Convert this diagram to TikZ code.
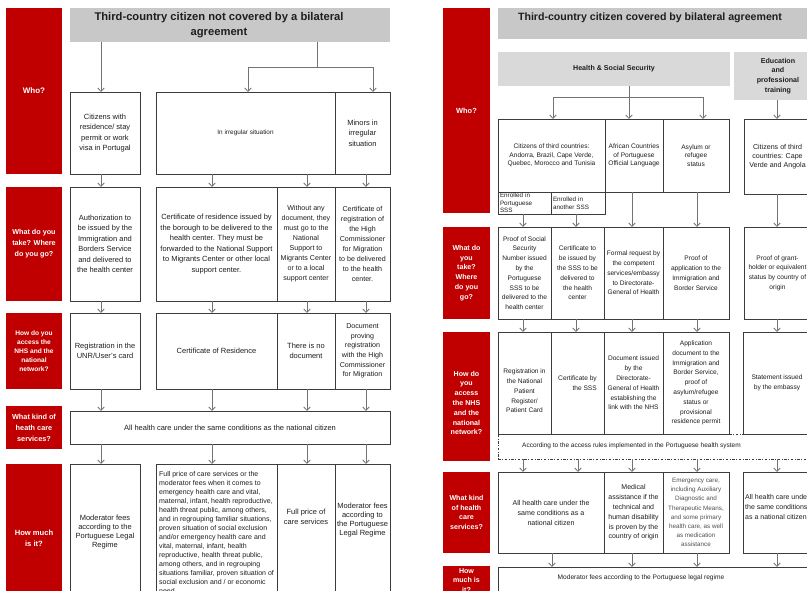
\documentclass[tikz,border=0pt]{standalone}
\usepackage{fontspec}
\setmainfont{Liberation Sans}
\usetikzlibrary{arrows.meta}
\definecolor{redlab}{RGB}{192,0,0}
\definecolor{titlegray}{RGB}{200,200,200}
\definecolor{subgray}{RGB}{217,217,217}
\definecolor{linegray}{RGB}{60,60,60}
\definecolor{arrgray}{RGB}{115,115,115}
\definecolor{txtcol}{RGB}{30,30,30}
\definecolor{softtxt}{RGB}{80,80,80}
\newcommand\bx[7][]{\pgfmathsetmacro\bxw{#5-#3}\pgfmathsetmacro\bxh{#6-#4}%
\node[cellst,minimum width=\bxw pt,minimum height=\bxh pt,#1] (#2) at (#3,#4) {#7};}
\tikzset{
 cellst/.style={draw=linegray,line width=0.7pt,anchor=north west,inner sep=1pt,outer sep=0pt,align=center,text=txtcol,font=\fontsize{7.5}{10.5}\selectfont},
 redst/.style={fill=redlab,draw=none,text=white},
 grayst/.style={fill=titlegray,draw=none},
 subst/.style={fill=subgray,draw=none},
 rf/.style={font=\fontsize{6.6}{9.8}\selectfont},
 txtst/.style={align=center,inner sep=0pt,text=txtcol},
 ln/.style={draw=arrgray,line width=0.8pt},
 arr/.style={ln,-{Straight Barb[length=3.5pt,width=6.5pt]}},
}
\begin{document}
\begin{tikzpicture}[x=1pt,y=-1pt]
\useasboundingbox (0,0) rectangle (807,590);
\clip (0,0) rectangle (807,590);
\fill[white] (0,0) rectangle (807,590);

% ================= LEFT PANEL =================
\bx[redst,font=\bfseries\fontsize{8}{10}\selectfont]{LR1}{6}{8}{62}{174}{Who?}
\bx[redst,font=\bfseries\fontsize{7.2}{11}\selectfont]{LR2}{6}{187}{62}{301}{What do you\\take? Where\\do you go?}
\bx[redst,font=\bfseries\fontsize{6.6}{9}\selectfont]{LR3}{6}{313}{62}{389}{How do you\\access the\\NHS and the\\national\\network?}
\bx[redst,font=\bfseries\fontsize{7.3}{11}\selectfont]{LR4}{6}{406}{62}{449}{What kind of\\heath care\\services?}
\bx[redst,font=\bfseries\fontsize{7.6}{11}\selectfont]{LR5}{6}{464}{62}{612}{How much\\is it?}

\bx[grayst]{TL}{70}{8}{390}{42}{}
\node[txtst,font=\bfseries\fontsize{11.2}{15}\selectfont] (TLt) at (219,25) {Third-country citizen not covered by a bilateral\\agreement};

\bx{A1}{70}{92}{140}{174}{Citizens with\\residence/ stay\\permit or work\\visa in Portugal}
\bx[font=\fontsize{6.4}{9}\selectfont]{B1}{156}{92}{335}{174}{In irregular situation}
\bx{C1}{335}{92}{390}{174}{Minors in\\irregular\\situation}

\bx{A2}{70}{187}{140}{301}{Authorization to\\be issued by the\\Immigration and\\Borders Service\\and delivered to\\the health center}
\bx{B2}{156}{187}{277}{301}{Certificate of residence issued by\\the borough to be delivered to the\\health center. They must be\\forwarded to the National Support\\to Migrants Center or other local\\support center.}
\bx[font=\fontsize{7.1}{10}\selectfont]{C2}{277}{187}{335}{301}{Without any\\document, they\\must go to the\\National\\Support to\\Migrants Center\\or to a local\\support center}
\bx[font=\fontsize{7.1}{10}\selectfont]{D2}{335}{187}{390}{301}{Certificate of\\registration of\\the High\\Commissioner\\for Migration\\to be delivered\\to the health\\center.}

\bx{A3}{70}{313}{140}{389}{Registration in the\\UNR/User's card}
\bx{B3}{156}{313}{277}{389}{Certificate of Residence}
\bx{C3}{277}{313}{335}{389}{There is no\\document}
\bx[font=\fontsize{7.1}{9.6}\selectfont]{D3}{335}{313}{390}{389}{Document\\proving\\registration\\with the High\\Commissioner\\for Migration}

\bx{R4L}{70}{411}{390}{444}{All health care under the same conditions as the national citizen}

\bx[font=\fontsize{7.5}{9}\selectfont]{A5}{70}{464}{140}{600}{Moderator fees\\according to the\\Portuguese Legal\\Regime}
\bx[font=\fontsize{7}{9}\selectfont,align=left]{B5}{156}{464}{277}{600}{Full price of care services or the\\moderator fees when it comes to\\emergency health care and vital,\\maternal, infant, health reproductive,\\health threat public, among others,\\and in regrouping familiar situations,\\proven situation of social exclusion\\and/or emergency health care and\\vital, maternal, infant, health\\reproductive, health threat public,\\among others, and in regrouping\\situations familiar, proven situation of\\social exclusion and / or economic\\need.}
\bx{C5}{277}{464}{335}{600}{}
\node[txtst,font=\fontsize{7.5}{10.5}\selectfont] (C5t) at (306,517) {Full price of\\care services};
\bx{D5}{335}{464}{390}{600}{}
\node[txtst,font=\fontsize{7.5}{8.8}\selectfont] (D5t) at (362.5,520) {Moderator fees\\according to\\the Portuguese\\Legal Regime};

% left connectors
\coordinate (cxA) at (101,0);
\coordinate (cxB) at (212,0);
\coordinate (cxC) at (307,0);
\coordinate (cxD) at (366,0);
\draw[arr] (cxA |- TL.south) -- (cxA |- A1.north);
\coordinate (jL) at (317,67);
\coordinate (bL1) at (248,67);
\coordinate (bL2) at (373,67);
\draw[ln] (jL |- TL.south) -- (jL);
\draw[ln] (bL1) -- (bL2);
\draw[arr] (bL1) -- (bL1 |- B1.north);
\draw[arr] (bL2) -- (bL2 |- C1.north);

\draw[arr] (cxA |- A1.south) -- (cxA |- A2.north);
\draw[arr] (cxB |- B1.south) -- (cxB |- B2.north);
\draw[arr] (cxC |- B1.south) -- (cxC |- C2.north);
\draw[arr] (cxD |- C1.south) -- (cxD |- D2.north);

\draw[arr] (cxA |- A2.south) -- (cxA |- A3.north);
\draw[arr] (cxB |- B2.south) -- (cxB |- B3.north);
\draw[arr] (cxC |- C2.south) -- (cxC |- C3.north);
\draw[arr] (cxD |- D2.south) -- (cxD |- D3.north);

\draw[arr] (cxA |- A3.south) -- (cxA |- R4L.north);
\draw[arr] (cxB |- B3.south) -- (cxB |- R4L.north);
\draw[arr] (cxC |- C3.south) -- (cxC |- R4L.north);
\draw[arr] (cxD |- D3.south) -- (cxD |- R4L.north);

\draw[arr] (cxA |- R4L.south) -- (cxA |- A5.north);
\draw[arr] (cxB |- R4L.south) -- (cxB |- B5.north);
\draw[arr] (cxC |- R4L.south) -- (cxC |- C5.north);
\draw[arr] (cxD |- R4L.south) -- (cxD |- D5.north);

% ================= RIGHT PANEL =================
\bx[redst,font=\bfseries\fontsize{7.4}{9.8}\selectfont]{RR1}{443}{8}{490}{213}{Who?}
\bx[redst,font=\bfseries\fontsize{7.1}{9.8}\selectfont]{RR2}{443}{227}{490}{319}{What do\\you\\take?\\Where\\do you\\go?}
\bx[redst]{RR3}{443}{332}{490}{461}{}
\node[txtst,text=white,font=\bfseries\fontsize{7.1}{9.8}\selectfont] (RR3t) at (466.5,403) {How do\\you\\access\\the NHS\\and the\\national\\network?};
\bx[redst,font=\bfseries\fontsize{7.1}{9.8}\selectfont]{RR4}{443}{472}{490}{553}{What kind\\of health\\care\\services?}
\bx[redst]{RR5}{443}{566}{490}{620}{}
\node[txtst,text=white,font=\bfseries\fontsize{7.1}{9.8}\selectfont,anchor=north] (RR5t) at (466.5,568) {How\\much is\\it?};

\bx[grayst]{TR}{498}{8}{830}{39}{}
\node[txtst,font=\bfseries\fontsize{10.6}{13}\selectfont] (TRt) at (650,18) {Third-country citizen covered by bilateral agreement};
\bx[subst,font=\bfseries\fontsize{7.1}{9}\selectfont]{HSS}{498}{52}{730}{86}{Health \& Social Security}
\bx[subst,font=\bfseries\fontsize{7.1}{9.7}\selectfont]{EDU}{734}{52}{822}{100}{Education\\and\\professional\\training}

\bx[rf,font=\fontsize{6.6}{8.6}\selectfont]{P1}{498}{119}{605}{192}{Citizens of third countries:\\Andorra, Brazil, Cape Verde,\\Quebec, Morocco and Tunisia}
\bx[rf,font=\fontsize{6.6}{8.6}\selectfont]{Q1}{605}{119}{663}{192}{African Countries\\of Portuguese\\Official Language}
\bx[rf,font=\fontsize{6.6}{8.6}\selectfont]{S1}{663}{119}{729}{192}{Asylum or\\refugee\\status}
\bx[font=\fontsize{7.1}{9}\selectfont]{T1}{744}{119}{811}{194}{Citizens of third\\countries: Cape\\Verde and Angola}
\bx[font=\fontsize{6.3}{7.6}\selectfont,align=left,text width=49pt]{E1}{498}{192}{551}{214}{Enrolled in\\Portuguese\\SSS}
\bx[font=\fontsize{6.3}{7.8}\selectfont,align=left,text width=50pt]{E2}{551}{192}{605}{214}{Enrolled in\\another SSS}

\bx[rf]{P2}{498}{227}{551}{319}{Proof of Social\\Security\\Number issued\\by the\\Portuguese\\SSS to be\\delivered to the\\health center}
\bx[rf]{Q2}{551}{227}{604}{319}{Certificate to\\be issued by\\the SSS to be\\delivered to\\the health\\center}
\bx[rf]{S2}{604}{227}{663}{319}{Formal request by\\the competent\\services/embassy\\to Directorate-\\General of Health}
\bx[rf]{U2}{663}{227}{729}{319}{Proof of\\application to the\\Immigration and\\Border Service}
\bx[rf]{T2}{744}{227}{811}{319}{Proof of grant-\\holder or equivalent\\status by country of\\origin}

\bx[draw=linegray,dash pattern=on 2.5pt off 1.5pt on 1pt off 1.5pt]{DR}{498}{434}{820}{459}{}
\node[txtst,anchor=west,font=\fontsize{6.5}{8}\selectfont] (DRt) at (522,446) {According to the access rules implemented in the Portuguese health system};

\bx[rf]{P3}{498}{332}{551}{434}{}
\node[txtst,rf] (P3t) at (524.5,391) {Registration in\\the National\\Patient\\Register/\\Patient Card};
\bx[rf,align=right]{Q3}{551}{332}{604}{434}{Certificate by\\the SSS}
\bx[rf]{S3}{604}{332}{663}{434}{Document issued\\by the\\Directorate-\\General of Health\\establishing the\\link with the NHS}
\bx[rf]{U3}{663}{332}{729}{434}{Application\\document to the\\Immigration and\\Border Service,\\proof of\\asylum/refugee\\status or\\provisional\\residence permit}
\bx[rf]{T3}{743}{332}{811}{434}{Statement issued\\by the embassy}

\bx[font=\fontsize{7.1}{10}\selectfont]{P4}{498}{472}{604}{553}{All health care under the\\same conditions as a\\national citizen}
\bx[font=\fontsize{7}{9.8}\selectfont]{S4}{604}{472}{663}{553}{Medical\\assistance if the\\technical and\\human disability\\is proven by the\\country of origin}
\bx[font=\fontsize{6.3}{9.1}\selectfont,text=softtxt]{U4}{663}{472}{729}{553}{Emergency care,\\including Auxiliary\\Diagnostic and\\Therapeutic Means,\\and some primary\\health care, as well\\as medication\\assistance}
\bx{T4}{743}{472}{811}{553}{}
\node[txtst,anchor=west,align=left,font=\fontsize{7}{9.6}\selectfont] (T4t) at (745,507) {All health care under\\the same conditions\\as a national citizen};

\bx{R5}{498}{567}{820}{620}{}
\node[txtst,font=\fontsize{6.6}{8}\selectfont] (R5t) at (641,578) {Moderator fees according to the Portuguese legal regime};

% right connectors
\coordinate (jR) at (629,97);
\coordinate (bR1) at (553,97);
\coordinate (bR2) at (703,97);
\draw[arr] (jR |- HSS.south) -- (jR |- Q1.north);
\draw[ln] (bR1) -- (bR2);
\draw[arr] (bR1) -- (bR1 |- P1.north);
\draw[arr] (bR2) -- (bR2 |- S1.north);
\coordinate (ce) at (777,0);
\draw[arr] (ce |- EDU.south) -- (ce |- T1.north);

\coordinate (c1) at (523,0);
\coordinate (c2) at (576,0);
\coordinate (c3) at (632,0);
\coordinate (c4) at (697,0);
\coordinate (c5) at (777,0);
\coordinate (d1) at (552,0);
\coordinate (d2) at (578,0);

\draw[arr] (c1 |- E1.south) -- (c1 |- P2.north);
\draw[arr] (c2 |- E2.south) -- (c2 |- Q2.north);
\draw[arr] (c3 |- Q1.south) -- (c3 |- S2.north);
\draw[arr] (c4 |- S1.south) -- (c4 |- U2.north);
\draw[arr] (c5 |- T1.south) -- (c5 |- T2.north);

\draw[arr] (c1 |- P2.south) -- (c1 |- P3.north);
\draw[arr] (c2 |- Q2.south) -- (c2 |- Q3.north);
\draw[arr] (c3 |- S2.south) -- (c3 |- S3.north);
\draw[arr] (c4 |- U2.south) -- (c4 |- U3.north);
\draw[arr] (c5 |- T2.south) -- (c5 |- T3.north);

\draw[arr] (c1 |- DR.south) -- (c1 |- P4.north);
\draw[arr] (d2 |- DR.south) -- (d2 |- P4.north);
\draw[arr] (c3 |- DR.south) -- (c3 |- S4.north);
\draw[arr] (c4 |- DR.south) -- (c4 |- U4.north);
\draw[arr] (c5 |- DR.south) -- (c5 |- T4.north);

\draw[arr] (d1 |- P4.south) -- (d1 |- R5.north);
\draw[arr] (c3 |- S4.south) -- (c3 |- R5.north);
\draw[arr] (c4 |- U4.south) -- (c4 |- R5.north);
\draw[arr] (c5 |- T4.south) -- (c5 |- R5.north);
\end{tikzpicture}
\end{document}
